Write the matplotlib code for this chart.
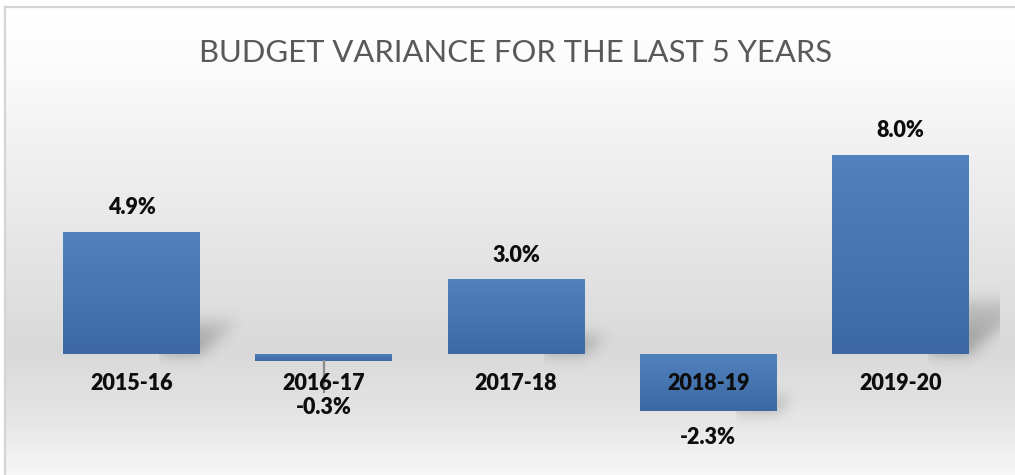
import numpy as np
import matplotlib
matplotlib.use("Agg")
import matplotlib.pyplot as plt
from matplotlib.lines import Line2D
from matplotlib import font_manager

# ---- data ----
categories = ["2015-16", "2016-17", "2017-18", "2018-19", "2019-20"]
variance = [4.9, -0.3, 3.0, -2.3, 8.0]
value_labels = ["4.9%", "-0.3%", "3.0%", "-2.3%", "8.0%"]
title = "BUDGET VARIANCE FOR THE LAST 5 YEARS"

W, H = 1015, 475
fig = plt.figure(figsize=(W / 100, H / 100), dpi=100)
fig.patch.set_facecolor("white")

# chart area (pixels, y from top)
cx0, cy0 = 6, 8
# plot area
px_left, px_right = 6, 1000
x0_px, x_step = 131.5, 192.25
zero_px, y_scale = 354.0, 24.9

# background gradient axes
ax_bg = fig.add_axes([cx0 / W, 0, (W - cx0) / W, (H - cy0) / H])
ax_bg.set_axis_off()
rows = np.arange(cy0, H)
stops_y = [8, 60, 130, 250, 350, 420, 475]
stops_v = [255, 252, 243, 229, 217, 230, 247]
vals = np.interp(rows, stops_y, stops_v) / 255.0
grad = np.repeat(vals[:, None], 2, axis=1)
ax_bg.imshow(np.dstack([grad, grad, grad]), aspect="auto", extent=[0, 1, 0, 1],
             interpolation="bilinear")
ax_bg.set_xlim(0, 1)
ax_bg.set_ylim(0, 1)

# border lines
fig.add_artist(Line2D([cx0 / W - 1.5 / W, 1], [1 - 7 / H, 1 - 7 / H],
                      transform=fig.transFigure, color="#d4d4d4", lw=1.6))
fig.add_artist(Line2D([4.5 / W, 4.5 / W], [0, 1 - 7 / H],
                      transform=fig.transFigure, color="#d4d4d4", lw=1.6))

# main axes
ax = fig.add_axes([px_left / W, 0, (px_right - px_left) / W, (H - cy0) / H])
ax.patch.set_alpha(0)
xlim = ((px_left - x0_px) / x_step, (px_right - x0_px) / x_step)
ylim = (-(H - zero_px) / y_scale, (zero_px - cy0) / y_scale)
ax.set_xlim(*xlim)
ax.set_ylim(*ylim)
ax.set_axis_off()

x = np.arange(len(categories))
bar_w = 0.712
bars = ax.bar(x, variance, width=bar_w, color="#4a7ab5", zorder=3, linewidth=0)

# gradient fill on bars
top_c = np.array([81, 130, 190]) / 255.0
bot_c = np.array([60, 105, 163]) / 255.0
for b in bars:
    bx, by = b.get_x(), b.get_y()
    bw, bh = b.get_width(), b.get_height()
    y_lo, y_hi = min(by, by + bh), max(by, by + bh)
    t = np.linspace(0, 1, 64)[:, None]
    g = top_c[None, :] * (1 - t) + bot_c[None, :] * t
    img = np.repeat(g[:, None, :], 2, axis=1)
    im = ax.imshow(img, extent=[bx, bx + bw, y_lo, y_hi], aspect="auto",
                   zorder=4, interpolation="bilinear")
    im.set_clip_path(b)


def gauss_blur(a, s):
    r = int(3 * s)
    k = np.exp(-0.5 * (np.arange(-r, r + 1) / s) ** 2)
    k /= k.sum()
    a = np.apply_along_axis(lambda m: np.convolve(m, k, mode="same"), 0, a)
    a = np.apply_along_axis(lambda m: np.convolve(m, k, mode="same"), 1, a)
    return a


# soft perspective shadows
for xi, v in zip(x, variance):
    bh_px = abs(v) * y_scale
    if bh_px < 15:
        continue
    L = x0_px + (xi - bar_w / 2) * x_step
    R = x0_px + (xi + bar_w / 2) * x_step
    B = zero_px + (max(0, -v)) * y_scale  # bottom pixel (y down)
    sh = 0.27 * bh_px
    gx0, gx1 = int(R - 40), int(R + 90)
    gy0, gy1 = int(B - sh - 40), int(B + 25)
    xs = np.arange(gx0, gx1) + 0.5
    ys = np.arange(gy0, gy1) + 0.5
    XX, YY = np.meshgrid(xs, ys)
    hh = B - YY
    u = XX - L - 1.15 * hh
    mask = ((hh >= 0) & (hh <= sh) & (u >= 0) & (u <= R - L)).astype(float)
    fade = np.clip(1 - hh / (sh + 1e-9), 0, 1) * 0.6 + 0.4
    a = gauss_blur(mask * fade, 7.0) * 0.42
    rgba = np.zeros(a.shape + (4,))
    rgba[..., :3] = 0.25
    rgba[..., 3] = a
    ext = [(gx0 - x0_px) / x_step, (gx1 - x0_px) / x_step,
           (zero_px - gy1) / y_scale, (zero_px - gy0) / y_scale]
    ax.imshow(rgba, extent=ext, aspect="auto", zorder=2, interpolation="bilinear")

ax.set_xlim(*xlim)
ax.set_ylim(*ylim)

font = ["Lato", "DejaVu Sans"]
fs = 15.5
lw_ = "heavy"
# category labels
for xi, c in zip(x, categories):
    ax.annotate(c, (xi, 0), xytext=(0, -29 * 0.72), textcoords="offset points",
                ha="center", va="center", fontsize=fs, fontweight=lw_,
                family=font, color="#0d0d0d", zorder=6)

# value labels
for xi, v, lab in zip(x, variance, value_labels):
    if v >= 0:
        ax.annotate(lab, (xi, v), xytext=(0, 24 * 0.72), textcoords="offset points",
                    ha="center", va="center", fontsize=fs, fontweight=lw_,
                    family=font, color="#0d0d0d", zorder=6)
    else:
        bottom_px = zero_px - v * y_scale
        lab_px = max(bottom_px + 26, zero_px + 54)
        ly = (zero_px - lab_px) / y_scale
        ax.text(xi, ly, lab, ha="center", va="center", fontsize=fs,
                fontweight=lw_, family=font, color="#0d0d0d", zorder=6)
        if lab_px - bottom_px > 35:
            ax.plot([xi, xi], [v, (zero_px - (lab_px - 16)) / y_scale],
                    color="#8c8c8c", lw=1.6, zorder=5)

# title, fitted to the reference width
names = {f.name for f in font_manager.fontManager.ttflist}
tfont = ["Liberation Sans Narrow", "Lato", "DejaVu Sans"] \
    if "Liberation Sans Narrow" in names else ["Lato", "DejaVu Sans"]
t = fig.text(516 / W, 1 - 53 / H, title, ha="center", va="center",
             fontsize=26, family=tfont, fontweight="normal", color="#595959")
fig.canvas.draw()
wpx = t.get_window_extent().width
t.set_fontsize(26 * 632 / wpx)

fig.savefig("out.png", dpi=100)
